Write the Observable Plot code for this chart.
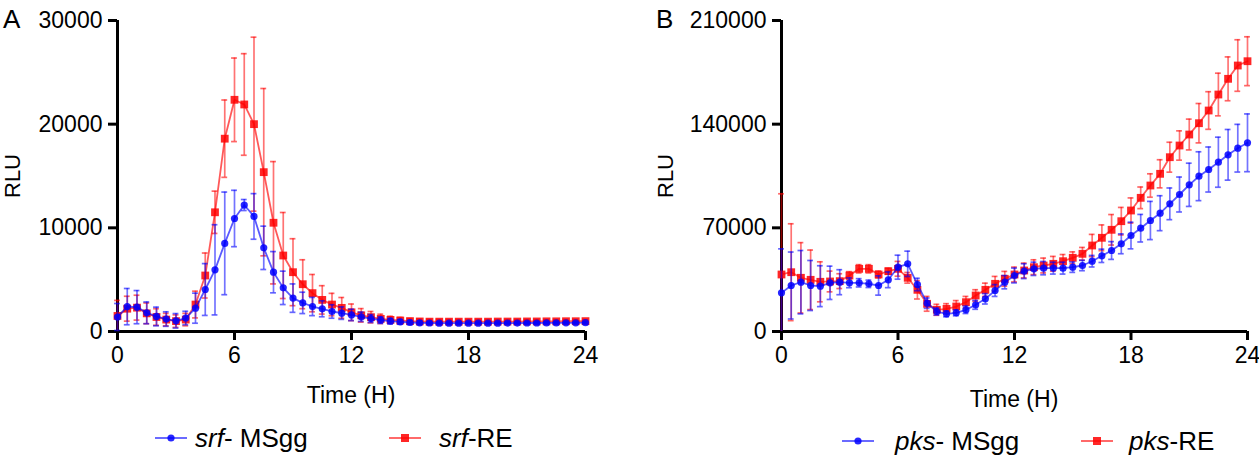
<!DOCTYPE html>
<html>
<head>
<meta charset="utf-8">
<script src="https://cdn.jsdelivr.net/npm/d3@7"></script>
<script src="https://cdn.jsdelivr.net/npm/@observablehq/plot@0.6"></script>
<style>
  html, body { margin: 0; padding: 0; background: #fff; }
  #wrap { position: relative; width: 1259px; height: 457px; overflow: hidden; font-family: "Liberation Sans", Arial, sans-serif; color: #000; }
  .abs { position: absolute; white-space: nowrap; }
  .panelLetter { font-size: 26px; line-height: 26px; }
  .xlab { font-size: 23px; line-height: 23px; transform: translateX(-50%); }
  .ylab { font-size: 22px; line-height: 22px; transform: translate(-50%, -50%) rotate(-90deg); }
  .legtxt { font-size: 26px; line-height: 26px; }
  .legsym { line-height: 0; }
</style>
</head>
<body>
<div id="wrap"></div>
<script>
// ---- data ----
const time = [0,0.5,1,1.5,2,2.5,3,3.5,4,4.5,5,5.5,6,6.5,7,7.5,8,8.5,9,9.5,10,10.5,11,11.5,12,12.5,13,13.5,14,14.5,15,15.5,16,16.5,17,17.5,18,18.5,19,19.5,20,20.5,21,21.5,22,22.5,23,23.5,24];

// Panel A: srf
const srfMSgg = [1400,2400,2350,1800,1450,1200,1030,1300,2250,4050,5950,8500,10900,12200,11100,8070,5720,4210,3220,2760,2410,2190,1930,1770,1600,1420,1250,1100,1000,930,870,840,820,800,800,800,800,800,800,800,810,810,820,820,830,830,840,840,850];
const srfMSggErr = [1300,1750,1600,1050,900,700,700,650,1450,2500,4350,4950,2720,530,2200,2090,1990,1610,1370,1030,880,770,650,600,550,450,380,320,270,230,200,180,150,130,120,120,110,110,110,110,110,110,110,110,110,110,100,100,100];
const srfRE = [1500,2200,2300,1750,1400,1150,1000,1150,2600,5400,11500,18600,22350,21900,20000,15370,10490,7330,5720,4560,3700,3050,2600,2280,1850,1560,1380,1220,1120,1060,1000,970,950,950,950,950,950,950,950,960,960,960,970,970,980,980,990,990,1000];
const srfREErr = [1500,1200,1200,1000,800,600,600,600,1290,2170,2040,3730,4030,4900,8390,8070,5900,4150,3230,2360,1800,1370,1080,1000,800,650,550,450,350,300,250,220,200,190,180,180,170,170,170,160,160,160,160,160,150,150,150,150,150];

// Panel B: pks
const pksMSgg = [26100,31060,33290,31060,30600,32880,33290,32880,32880,32200,31060,34900,43420,45700,31730,19110,13500,11950,12600,14650,18000,22060,27680,33290,37810,40720,42330,42780,42780,42780,43420,44560,47470,51110,54690,59210,64820,69750,74950,79880,86210,92500,99050,104860,109380,114310,119310,123770,127410];
const pksMSggErr = [29700,22600,21400,16900,13800,11250,8440,3300,2800,2500,6500,5300,8100,8550,4200,3500,2400,2000,2000,2500,3000,3500,4000,4500,5000,5000,4500,4500,4000,4000,3500,3500,3900,4500,6000,6700,9000,9300,12900,11800,10700,11800,14600,16500,15200,16900,17100,16100,19500];
const pksRE = [38490,40040,36260,34900,33560,33780,34000,37810,42330,42330,38490,40720,42330,36260,28140,18700,14650,15300,16880,19790,24310,28140,32200,35580,38490,41190,43420,44560,45700,47470,49760,52460,58070,63270,68670,74480,81700,90270,98580,106480,117690,125590,133010,140650,149220,160020,170620,179600,182510];
const pksREErr = [54500,32700,23750,20100,13500,7000,5000,2600,2800,2800,2300,2000,5000,3600,6200,5000,3700,3500,4000,3900,3900,4500,5000,5000,5000,5000,5000,5000,5000,4500,4000,4300,7500,8700,10300,9300,8500,7300,7900,9500,10100,9900,10400,13300,12700,14400,14800,17400,16500];

const xTicks = [0, 6, 12, 18, 24];
const yTicksA = [0, 10000, 20000, 30000];
const yTicksB = [0, 70000, 140000, 210000];

const BLUE = "#0000ff";
const RED = "#ff0000";

function rows(vals, errs) {
  return time.map((t, i) => ({t, v: vals[i], lo: Math.max(0, vals[i] - errs[i]), hi: vals[i] + errs[i]}));
}

function seriesMarks(data, color, symbol, r) {
  return [
    Plot.ruleX(data, {x: "t", y1: "lo", y2: "hi", stroke: color, strokeOpacity: 0.55, strokeWidth: 1.7}),
    Plot.ruleY(data, {y: "hi", x1: d => d.t - 0.15, x2: d => d.t + 0.15, stroke: color, strokeOpacity: 0.6, strokeWidth: 1.7}),
    Plot.ruleY(data.filter(d => d.lo > 0), {y: "lo", x1: d => d.t - 0.15, x2: d => d.t + 0.15, stroke: color, strokeOpacity: 0.6, strokeWidth: 1.7}),
    Plot.line(data, {x: "t", y: "v", stroke: color, strokeOpacity: 0.65, strokeWidth: 1.8}),
    Plot.dot(data, {x: "t", y: "v", symbol, r, fill: color, fillOpacity: 0.85, stroke: "none"})
  ];
}

function panel({width, marginLeft, marginRight, yMax, yTicks, blue, red}) {
  return Plot.plot({
    width, height: 372,
    marginLeft, marginRight, marginTop: 20, marginBottom: 41,
    style: {fontFamily: "'Liberation Sans', Arial, sans-serif", fontSize: "23px", background: "transparent", overflow: "visible"},
    x: {domain: [0, 24]},
    y: {domain: [0, yMax]},
    marks: [
      Plot.ruleX([0], {stroke: "black", strokeWidth: 3}),
      Plot.ruleY([0], {stroke: "black", strokeWidth: 3}),
      Plot.axisX({ticks: xTicks, tickSize: 9, tickPadding: 6, strokeWidth: 3, label: null, tickFormat: d => String(d), fontSize: 23}),
      Plot.axisY({ticks: yTicks, tickSize: 9, tickPadding: 6, strokeWidth: 3, label: null, tickFormat: d => String(d), fontSize: 23}),
      ...seriesMarks(red, RED, "square", 4.4),
      ...seriesMarks(blue, BLUE, "circle", 3.6)
    ]
  });
}

const wrap = document.getElementById("wrap");

const plotA = panel({width: 630, marginLeft: 117, marginRight: 45, yMax: 30000, yTicks: yTicksA,
  blue: rows(srfMSgg, srfMSggErr), red: rows(srfRE, srfREErr)});
plotA.style.position = "absolute"; plotA.style.left = "0px"; plotA.style.top = "0px";
wrap.appendChild(plotA);

const plotB = panel({width: 619, marginLeft: 141, marginRight: 12, yMax: 210000, yTicks: yTicksB,
  blue: rows(pksMSgg, pksMSggErr), red: rows(pksRE, pksREErr)});
plotB.style.position = "absolute"; plotB.style.left = "640px"; plotB.style.top = "0px";
wrap.appendChild(plotB);

function addDiv(cls, html, left, top) {
  const d = document.createElement("div");
  d.className = "abs " + cls;
  d.innerHTML = html;
  d.style.left = left + "px";
  d.style.top = top + "px";
  wrap.appendChild(d);
  return d;
}

addDiv("panelLetter", "A", 3, 6);
addDiv("panelLetter", "B", 656, 6);
addDiv("ylab", "RLU", 13, 176);
addDiv("ylab", "RLU", 666, 176);
addDiv("xlab", "Time (H)", 351, 384);
addDiv("xlab", "Time (H)", 1014, 388);

function legendSample(color, symbol) {
  const mk = symbol === "circle"
    ? `<circle cx="16" cy="12" r="3.6" fill="${color}" fill-opacity="0.85"/>`
    : `<rect x="12" y="8" width="8" height="8" fill="${color}" fill-opacity="0.85"/>`;
  return `<svg width="32" height="24"><line x1="0" y1="12" x2="32" y2="12" stroke="${color}" stroke-opacity="0.65" stroke-width="1.8"/>${mk}</svg>`;
}

// legend A
addDiv("legsym", legendSample(BLUE, "circle"), 155, 426);
addDiv("legtxt", "<i>srf</i>- MSgg", 195, 425);
addDiv("legsym", legendSample(RED, "square"), 389, 426);
addDiv("legtxt", "<i>srf</i>-RE", 439, 425);
// legend B
addDiv("legsym", legendSample(BLUE, "circle"), 842, 429);
addDiv("legtxt", "<i>pks</i>- MSgg", 895, 428);
addDiv("legsym", legendSample(RED, "square"), 1081, 429);
addDiv("legtxt", "<i>pks</i>-RE", 1129, 428);
</script>
</body>
</html>
